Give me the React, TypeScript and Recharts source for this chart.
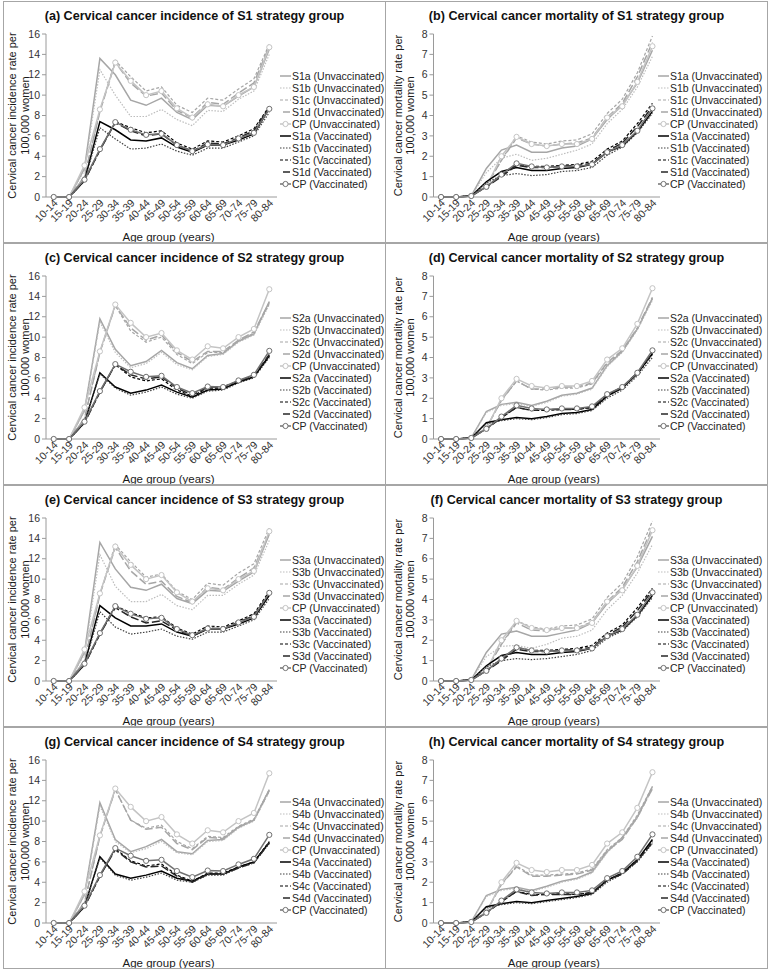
import React from 'react';
import { LineChart, Line, XAxis, YAxis, Legend, Label } from 'recharts';

const AGE_GROUPS = [
  '10-14', '15-19', '20-24', '25-29', '30-34', '35-39', '40-44', '45-49',
  '50-54', '55-59', '60-64', '65-69', '70-74', '75-79', '80-84',
];

// current practice (CP) is the same reference in every panel
const cpIncU = [0, 0, 3.1, 8.6, 13.2, 11.4, 10.0, 10.4, 8.7, 7.8, 9.1, 8.9, 10.0, 10.8, 14.7];
const cpIncV = [0, 0, 1.7, 4.7, 7.35, 6.6, 6.1, 6.2, 5.1, 4.5, 5.15, 5.1, 5.75, 6.3, 8.65];
const cpMortU = [0, 0, 0.05, 0.5, 2.0, 2.95, 2.6, 2.5, 2.6, 2.6, 2.85, 3.9, 4.45, 5.65, 7.4];
const cpMortV = [0, 0, 0.05, 0.5, 1.1, 1.65, 1.5, 1.45, 1.5, 1.5, 1.6, 2.2, 2.55, 3.25, 4.35];

// (a) S1 incidence
const s1aIncU = [0, 0, 2.8, 13.6, 12.0, 9.5, 9.0, 9.7, 8.3, 7.6, 9.0, 8.9, 9.9, 10.8, 14.5];
const s1bIncU = [0, 0, 2.6, 12.5, 10.0, 7.9, 7.9, 8.6, 7.6, 7.0, 8.5, 8.4, 9.6, 10.4, 14.0];
const s1cIncU = [0, 0, 2.0, 8.4, 13.4, 11.8, 10.4, 10.8, 9.0, 8.3, 9.7, 9.5, 10.6, 11.6, 15.0];
const s1dIncU = [0, 0, 2.0, 8.4, 13.2, 11.2, 9.9, 10.2, 8.5, 7.8, 9.3, 9.1, 10.2, 11.2, 14.8];
const s1aIncV = [0, 0, 1.6, 7.4, 6.6, 5.6, 5.5, 5.8, 4.9, 4.4, 5.1, 5.1, 5.6, 6.2, 8.7];
const s1bIncV = [0, 0, 1.6, 6.8, 5.7, 4.7, 4.8, 5.2, 4.5, 4.1, 4.8, 4.8, 5.4, 6.0, 8.3];
const s1cIncV = [0, 0, 1.6, 4.6, 7.4, 6.8, 6.3, 6.5, 5.3, 4.7, 5.5, 5.4, 6.0, 6.7, 8.9];
const s1dIncV = [0, 0, 1.6, 4.6, 7.3, 6.5, 6.0, 6.2, 5.1, 4.5, 5.3, 5.2, 5.8, 6.5, 8.8];

// (b) S1 mortality
const s1aMortU = [0, 0, 0.05, 1.4, 2.3, 2.55, 2.2, 2.2, 2.4, 2.5, 2.85, 3.8, 4.5, 5.6, 7.2];
const s1bMortU = [0, 0, 0.05, 1.2, 1.9, 2.1, 1.8, 1.9, 2.1, 2.3, 2.6, 3.6, 4.3, 5.4, 6.9];
const s1cMortU = [0, 0, 0.05, 0.6, 1.8, 3.0, 2.7, 2.6, 2.75, 2.8, 3.1, 4.1, 4.8, 6.1, 7.9];
const s1dMortU = [0, 0, 0.05, 0.55, 1.8, 2.9, 2.6, 2.5, 2.6, 2.65, 2.9, 3.9, 4.6, 5.9, 7.6];
const s1aMortV = [0, 0, 0.05, 0.75, 1.25, 1.45, 1.3, 1.3, 1.4, 1.45, 1.6, 2.2, 2.5, 3.2, 4.2];
const s1bMortV = [0, 0, 0.05, 0.7, 1.05, 1.15, 1.05, 1.1, 1.25, 1.3, 1.45, 2.05, 2.45, 3.15, 4.1];
const s1cMortV = [0, 0, 0.05, 0.5, 1.05, 1.6, 1.5, 1.5, 1.55, 1.6, 1.75, 2.35, 2.75, 3.6, 4.6];
const s1dMortV = [0, 0, 0.05, 0.5, 1.0, 1.55, 1.45, 1.45, 1.5, 1.55, 1.65, 2.25, 2.65, 3.45, 4.45];

// (c) S2 incidence
const s2aIncU = [0, 0, 2.8, 11.8, 8.8, 7.2, 7.6, 8.7, 7.5, 6.9, 8.2, 8.4, 9.6, 10.3, 13.5];
const s2bIncU = [0, 0, 2.7, 11.5, 8.5, 7.0, 7.4, 8.5, 7.3, 6.8, 8.1, 8.3, 9.5, 10.2, 13.2];
const s2cIncU = [0, 0, 2.0, 8.5, 13.1, 10.6, 9.5, 10.0, 8.3, 7.4, 8.5, 8.5, 9.6, 10.4, 13.3];
const s2dIncU = [0, 0, 2.0, 8.5, 13.1, 10.9, 9.7, 10.2, 8.5, 7.6, 8.6, 8.6, 9.7, 10.5, 13.4];
const s2aIncV = [0, 0, 1.6, 6.5, 5.1, 4.5, 4.8, 5.3, 4.6, 4.1, 4.8, 4.9, 5.6, 6.1, 8.2];
const s2bIncV = [0, 0, 1.6, 6.4, 5.0, 4.3, 4.6, 5.1, 4.4, 4.0, 4.7, 4.8, 5.5, 6.0, 8.0];
const s2cIncV = [0, 0, 1.6, 4.6, 7.3, 6.1, 5.7, 5.9, 4.8, 4.2, 5.0, 5.0, 5.6, 6.1, 8.1];
const s2dIncV = [0, 0, 1.6, 4.6, 7.3, 6.3, 5.9, 6.1, 5.0, 4.3, 5.1, 5.1, 5.7, 6.2, 8.3];

// (d) S2 mortality
const s2aMortU = [0, 0, 0.05, 1.35, 1.7, 1.8, 1.65, 1.85, 2.15, 2.25, 2.5, 3.6, 4.3, 5.4, 6.9];
const s2bMortU = [0, 0, 0.05, 1.3, 1.65, 1.75, 1.6, 1.8, 2.1, 2.2, 2.45, 3.55, 4.25, 5.35, 6.8];
const s2cMortU = [0, 0, 0.05, 0.55, 1.9, 2.85, 2.45, 2.4, 2.5, 2.5, 2.7, 3.7, 4.3, 5.4, 6.9];
const s2dMortU = [0, 0, 0.05, 0.55, 1.9, 2.85, 2.45, 2.45, 2.55, 2.55, 2.75, 3.75, 4.35, 5.45, 6.95];
const s2aMortV = [0, 0, 0.05, 0.8, 0.95, 1.05, 1.0, 1.1, 1.25, 1.3, 1.45, 2.1, 2.5, 3.2, 4.2];
const s2bMortV = [0, 0, 0.05, 0.75, 0.9, 1.0, 0.95, 1.05, 1.2, 1.25, 1.4, 2.0, 2.4, 3.1, 4.0];
const s2cMortV = [0, 0, 0.05, 0.5, 1.05, 1.55, 1.4, 1.4, 1.45, 1.45, 1.55, 2.15, 2.55, 3.2, 4.15];
const s2dMortV = [0, 0, 0.05, 0.5, 1.05, 1.55, 1.4, 1.45, 1.45, 1.45, 1.55, 2.15, 2.55, 3.25, 4.2];

// (e) S3 incidence
const s3aIncU = [0, 0, 2.8, 13.6, 11.0, 9.2, 8.9, 9.5, 8.1, 7.6, 8.9, 8.8, 9.8, 10.7, 14.4];
const s3bIncU = [0, 0, 2.6, 12.4, 9.3, 7.8, 7.8, 8.5, 7.4, 7.0, 8.4, 8.4, 9.5, 10.4, 13.8];
const s3cIncU = [0, 0, 2.0, 8.5, 13.4, 11.7, 10.2, 10.5, 8.8, 8.0, 9.6, 9.4, 10.6, 11.5, 15.0];
const s3dIncU = [0, 0, 2.0, 8.5, 13.1, 10.8, 9.5, 9.8, 8.3, 7.7, 9.2, 9.0, 10.1, 11.1, 14.5];
const s3aIncV = [0, 0, 1.6, 7.4, 6.2, 5.4, 5.4, 5.6, 4.8, 4.4, 5.1, 5.1, 5.6, 6.2, 8.4];
const s3bIncV = [0, 0, 1.6, 6.8, 5.3, 4.6, 4.8, 5.1, 4.4, 4.1, 4.8, 4.8, 5.4, 6.0, 8.1];
const s3cIncV = [0, 0, 1.6, 4.6, 7.4, 6.7, 6.2, 6.3, 5.2, 4.6, 5.4, 5.3, 5.9, 6.6, 8.8];
const s3dIncV = [0, 0, 1.6, 4.6, 7.2, 6.3, 5.7, 5.9, 5.0, 4.4, 5.2, 5.1, 5.8, 6.4, 8.6];

// (f) S3 mortality
const s3aMortU = [0, 0, 0.05, 1.4, 2.3, 2.45, 2.2, 2.2, 2.35, 2.5, 2.85, 3.8, 4.5, 5.6, 7.1];
const s3bMortU = [0, 0, 0.05, 1.2, 1.7, 1.75, 1.6, 1.8, 2.1, 2.2, 2.5, 3.5, 4.2, 5.3, 6.7];
const s3cMortU = [0, 0, 0.05, 0.6, 1.8, 2.95, 2.65, 2.55, 2.7, 2.75, 3.05, 4.1, 4.8, 6.1, 7.85];
const s3dMortU = [0, 0, 0.05, 0.55, 1.8, 2.85, 2.5, 2.45, 2.6, 2.6, 2.9, 3.9, 4.6, 5.85, 7.55];
const s3aMortV = [0, 0, 0.05, 0.75, 1.25, 1.4, 1.3, 1.3, 1.4, 1.45, 1.6, 2.2, 2.5, 3.2, 4.2];
const s3bMortV = [0, 0, 0.05, 0.7, 1.0, 1.1, 1.05, 1.1, 1.2, 1.3, 1.5, 2.1, 2.45, 3.15, 4.1];
const s3cMortV = [0, 0, 0.05, 0.5, 1.05, 1.65, 1.5, 1.5, 1.55, 1.6, 1.75, 2.35, 2.75, 3.6, 4.55];
const s3dMortV = [0, 0, 0.05, 0.5, 1.0, 1.55, 1.45, 1.45, 1.5, 1.55, 1.65, 2.25, 2.65, 3.45, 4.45];

// (g) S4 incidence
const s4aIncU = [0, 0, 2.8, 11.8, 8.2, 7.0, 7.5, 8.2, 7.0, 6.8, 8.1, 8.2, 9.4, 10.1, 13.1];
const s4bIncU = [0, 0, 2.7, 11.5, 8.0, 6.9, 7.3, 8.0, 6.9, 6.7, 8.0, 8.1, 9.3, 10.0, 12.9];
const s4cIncU = [0, 0, 2.0, 8.5, 13.1, 10.1, 9.3, 9.6, 8.0, 7.3, 8.5, 8.4, 9.5, 10.2, 13.1];
const s4dIncU = [0, 0, 2.0, 8.5, 13.1, 10.1, 9.2, 9.4, 7.8, 7.2, 8.4, 8.3, 9.4, 10.1, 13.0];
const s4aIncV = [0, 0, 1.6, 6.5, 4.8, 4.4, 4.7, 5.1, 4.4, 4.1, 4.8, 4.8, 5.5, 6.0, 7.9];
const s4bIncV = [0, 0, 1.6, 6.4, 4.7, 4.2, 4.5, 4.9, 4.2, 4.0, 4.7, 4.7, 5.4, 5.9, 7.8];
const s4cIncV = [0, 0, 1.6, 4.6, 7.3, 6.1, 5.6, 5.8, 4.7, 4.1, 4.9, 4.9, 5.5, 6.0, 8.0];
const s4dIncV = [0, 0, 1.6, 4.6, 7.2, 6.0, 5.5, 5.6, 4.6, 4.0, 4.8, 4.8, 5.4, 5.9, 7.9];

// (h) S4 mortality
const s4aMortU = [0, 0, 0.05, 1.35, 1.65, 1.75, 1.6, 1.8, 2.05, 2.2, 2.5, 3.5, 4.2, 5.2, 6.7];
const s4bMortU = [0, 0, 0.05, 1.3, 1.6, 1.7, 1.55, 1.75, 2.0, 2.15, 2.45, 3.45, 4.15, 5.15, 6.6];
const s4cMortU = [0, 0, 0.05, 0.55, 1.9, 2.8, 2.35, 2.35, 2.4, 2.45, 2.65, 3.6, 4.2, 5.3, 6.7];
const s4dMortU = [0, 0, 0.05, 0.55, 1.9, 2.75, 2.3, 2.3, 2.35, 2.4, 2.6, 3.55, 4.1, 5.2, 6.6];
const s4aMortV = [0, 0, 0.05, 0.8, 0.95, 1.05, 1.0, 1.1, 1.2, 1.3, 1.45, 2.1, 2.45, 3.1, 4.1];
const s4bMortV = [0, 0, 0.05, 0.75, 0.9, 1.0, 0.95, 1.05, 1.15, 1.25, 1.4, 2.0, 2.4, 3.0, 3.9];
const s4cMortV = [0, 0, 0.05, 0.5, 1.05, 1.55, 1.4, 1.4, 1.45, 1.4, 1.5, 2.1, 2.45, 3.1, 4.0];
const s4dMortV = [0, 0, 0.05, 0.5, 1.05, 1.55, 1.35, 1.4, 1.4, 1.4, 1.5, 2.1, 2.4, 3.05, 3.95];

const INC_TICKS = [0, 2, 4, 6, 8, 10, 12, 14, 16];
const MORT_TICKS = [0, 1, 2, 3, 4, 5, 6, 7, 8];

const FONT = '"Liberation Sans", Arial, Helvetica, sans-serif';

// line look of the 10 series, in legend / drawing order
const STYLES = [
  { tag: 'a', group: 'Unvaccinated', stroke: '#a6a6a6', width: 1.5, dash: undefined, dot: false },
  { tag: 'b', group: 'Unvaccinated', stroke: '#bdbdbd', width: 1.2, dash: '1.5 1.5', dot: false },
  { tag: 'c', group: 'Unvaccinated', stroke: '#a6a6a6', width: 1.2, dash: '3 2', dot: false },
  { tag: 'd', group: 'Unvaccinated', stroke: '#a6a6a6', width: 1.5, dash: '8 3', dot: false },
  { tag: 'CP', group: 'Unvaccinated', stroke: '#c4c4c4', width: 1.5, dash: undefined, dot: true },
  { tag: 'a', group: 'Vaccinated', stroke: '#000000', width: 1.5, dash: undefined, dot: false },
  { tag: 'b', group: 'Vaccinated', stroke: '#404040', width: 1.2, dash: '1.5 1.5', dot: false },
  { tag: 'c', group: 'Vaccinated', stroke: '#000000', width: 1.2, dash: '3 2', dot: false },
  { tag: 'd', group: 'Vaccinated', stroke: '#262626', width: 1.5, dash: '8 3', dot: false },
  { tag: 'CP', group: 'Vaccinated', stroke: '#707070', width: 1.5, dash: undefined, dot: true },
];

type Panel = {
  letter: string;
  strategy: string;
  kind: 'incidence' | 'mortality';
  series: number[][];
};

const PANELS: Panel[] = [
  { letter: 'a', strategy: 'S1', kind: 'incidence', series: [s1aIncU, s1bIncU, s1cIncU, s1dIncU, cpIncU, s1aIncV, s1bIncV, s1cIncV, s1dIncV, cpIncV] },
  { letter: 'b', strategy: 'S1', kind: 'mortality', series: [s1aMortU, s1bMortU, s1cMortU, s1dMortU, cpMortU, s1aMortV, s1bMortV, s1cMortV, s1dMortV, cpMortV] },
  { letter: 'c', strategy: 'S2', kind: 'incidence', series: [s2aIncU, s2bIncU, s2cIncU, s2dIncU, cpIncU, s2aIncV, s2bIncV, s2cIncV, s2dIncV, cpIncV] },
  { letter: 'd', strategy: 'S2', kind: 'mortality', series: [s2aMortU, s2bMortU, s2cMortU, s2dMortU, cpMortU, s2aMortV, s2bMortV, s2cMortV, s2dMortV, cpMortV] },
  { letter: 'e', strategy: 'S3', kind: 'incidence', series: [s3aIncU, s3bIncU, s3cIncU, s3dIncU, cpIncU, s3aIncV, s3bIncV, s3cIncV, s3dIncV, cpIncV] },
  { letter: 'f', strategy: 'S3', kind: 'mortality', series: [s3aMortU, s3bMortU, s3cMortU, s3dMortU, cpMortU, s3aMortV, s3bMortV, s3cMortV, s3dMortV, cpMortV] },
  { letter: 'g', strategy: 'S4', kind: 'incidence', series: [s4aIncU, s4bIncU, s4cIncU, s4dIncU, cpIncU, s4aIncV, s4bIncV, s4cIncV, s4dIncV, cpIncV] },
  { letter: 'h', strategy: 'S4', kind: 'mortality', series: [s4aMortU, s4bMortU, s4cMortU, s4dMortU, cpMortU, s4aMortV, s4bMortV, s4cMortV, s4dMortV, cpMortV] },
];

// per column placement inside a panel (chart coordinates)
const COLUMNS = [
  { x: 3, plotLeft: 42, plotRight: 273, yLab: [8, 21], legendX: 276 },
  { x: 385, plotLeft: 47.5, plotRight: 274, yLab: [12, 24.5], legendX: 272 },
];

const PANEL_W = 383;
const PANEL_H = 242;
const CHART_W = PANEL_W - 2;
const CHART_H = PANEL_H - 2;
const PLOT_TOP = 32;
const PLOT_BOTTOM = 195;
const Y_AXIS_W = 36;
const X_AXIS_H = 42;

const buildRows = (series: number[][]) =>
  AGE_GROUPS.map((age, i) => {
    const row: Record<string, string | number> = { age };
    series.forEach((s, k) => {
      row['s' + k] = s[i];
    });
    return row;
  });

const AgeTick = (props: any) => {
  const { x, y, payload } = props;
  const ax = x + 2;
  const ay = y + 4;
  return (
    <text
      x={ax}
      y={ay}
      dy="0.35em"
      textAnchor="end"
      transform={`rotate(-45 ${ax} ${ay})`}
      fontSize={10.5}
      fill="#333"
      fontFamily={FONT}
    >
      {payload.value}
    </text>
  );
};

const LegendBox = ({ labels }: { labels: string[] }) => (
  <svg width={112} height={124} style={{ display: 'block', overflow: 'visible' }}>
    {STYLES.map((st, i) => {
      const cy = 6 + i * 12;
      const short = st.tag === 'd';
      return (
        <g key={i}>
          <line
            x1={short ? 3 : 0}
            x2={short ? 10 : 11}
            y1={cy}
            y2={cy}
            stroke={st.stroke}
            strokeWidth={st.width}
            strokeDasharray={short ? undefined : st.dash}
          />
          {st.dot && <circle cx={5.5} cy={cy} r={2.6} fill="#fff" stroke={st.stroke} strokeWidth={1} />}
          <text x={12} y={cy} dy="0.35em" fontSize={10.5} fill="#222" fontFamily={FONT}>
            {labels[i]}
          </text>
        </g>
      );
    })}
  </svg>
);

const ChartPanel = ({ panel, index }: { panel: Panel; index: number }) => {
  const col = COLUMNS[index % 2];
  const rowIdx = Math.floor(index / 2);
  const rows = buildRows(panel.series);
  const isInc = panel.kind === 'incidence';
  const ticks = isInc ? INC_TICKS : MORT_TICKS;
  const plotW = col.plotRight - col.plotLeft;
  const pad = plotW / 30;
  const labels = STYLES.map((st) =>
    st.tag === 'CP' ? `CP (${st.group})` : `${panel.strategy}${st.tag} (${st.group})`
  );
  const yLines = [`Cervical cancer ${panel.kind} rate per`, '100,000 women'];
  const title = `(${panel.letter}) Cervical cancer ${panel.kind} of ${panel.strategy} strategy group`;

  const renderYLabel = (props: any) => {
    const vb = props.viewBox || {};
    const cy = (vb.y ?? PLOT_TOP) + (vb.height ?? PLOT_BOTTOM - PLOT_TOP) / 2;
    return (
      <g>
        {yLines.map((t, i) => (
          <text
            key={i}
            x={col.yLab[i]}
            y={cy}
            dy="0.35em"
            textAnchor="middle"
            transform={`rotate(-90 ${col.yLab[i]} ${cy})`}
            fontSize={11}
            fill="#1a1a1a"
            fontFamily={FONT}
          >
            {t}
          </text>
        ))}
      </g>
    );
  };

  const renderXLabel = (props: any) => {
    const vb = props.viewBox || {};
    const cx = (vb.x ?? col.plotLeft) + (vb.width ?? plotW) / 2 + 7;
    const cy = (vb.y ?? PLOT_BOTTOM) + 40;
    return (
      <text x={cx} y={cy} dy="0.35em" textAnchor="middle" fontSize={11.5} fill="#1a1a1a" fontFamily={FONT}>
        Age group (years)
      </text>
    );
  };

  return (
    <div
      style={{
        position: 'absolute',
        left: col.x,
        top: 1 + rowIdx * PANEL_H,
        width: PANEL_W,
        height: PANEL_H,
        border: '1px solid #a6a6a6',
        boxSizing: 'border-box',
        background: '#fff',
      }}
    >
      <div
        style={{
          position: 'absolute',
          left: 0,
          top: 6,
          width: CHART_W,
          lineHeight: '16px',
          textAlign: 'center',
          fontFamily: FONT,
          fontWeight: 'bold',
          fontSize: 12.6,
          color: '#111',
          whiteSpace: 'nowrap',
        }}
      >
        {title}
      </div>
      <LineChart
        width={CHART_W}
        height={CHART_H}
        data={rows}
        margin={{
          top: PLOT_TOP,
          right: CHART_W - col.plotRight,
          bottom: CHART_H - PLOT_BOTTOM - X_AXIS_H,
          left: col.plotLeft - Y_AXIS_W,
        }}
      >
        <XAxis
          dataKey="age"
          height={X_AXIS_H}
          interval={0}
          tick={<AgeTick />}
          tickLine={false}
          tickSize={0}
          tickMargin={0}
          axisLine={{ stroke: '#9a9a9a' }}
          padding={{ left: pad, right: pad }}
        >
          <Label content={renderXLabel} />
        </XAxis>
        <YAxis
          width={Y_AXIS_W}
          domain={[0, ticks[ticks.length - 1]]}
          ticks={ticks}
          interval={0}
          tick={{ fontSize: 10.5, fill: '#333', fontFamily: FONT }}
          tickSize={4}
          tickMargin={2}
          tickLine={{ stroke: '#9a9a9a' }}
          axisLine={{ stroke: '#9a9a9a' }}
        >
          <Label content={renderYLabel} />
        </YAxis>
        <Legend
          layout="vertical"
          align="center"
          verticalAlign="middle"
          wrapperStyle={{ left: col.legendX, top: 68, width: 112 }}
          content={() => <LegendBox labels={labels} />}
        />
        {STYLES.map((st, k) => (
          <Line
            key={k}
            type="linear"
            dataKey={'s' + k}
            name={labels[k]}
            stroke={st.stroke}
            strokeWidth={st.width}
            strokeDasharray={st.dash}
            dot={st.dot ? { r: 2.6, fill: '#fff', stroke: st.stroke, strokeWidth: 1 } : false}
            activeDot={false}
            isAnimationActive={false}
          />
        ))}
      </LineChart>
    </div>
  );
};

export default function App() {
  return (
    <div
      style={{
        position: 'absolute',
        left: 0,
        top: 0,
        width: 770,
        height: 972,
        background: '#fff',
        overflow: 'hidden',
      }}
    >
      {PANELS.map((p, i) => (
        <ChartPanel key={p.letter} panel={p} index={i} />
      ))}
    </div>
  );
}
